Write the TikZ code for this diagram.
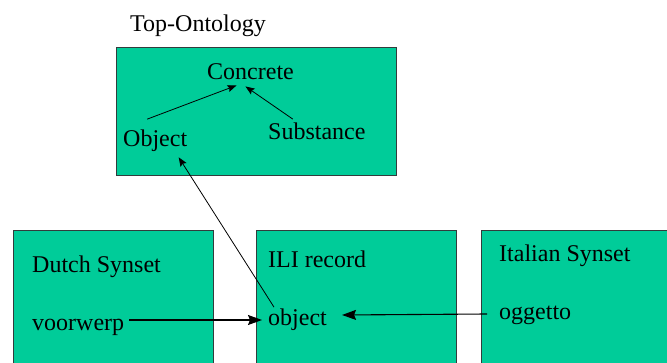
\documentclass[tikz,border=0pt]{standalone}
\usepackage{fontspec}
\setmainfont{Liberation Serif}
\usetikzlibrary{arrows.meta,calc}
\definecolor{boxfill}{RGB}{0,204,153}
\definecolor{boxline}{RGB}{50,60,60}
\begin{document}
\begin{tikzpicture}[x=1pt,y=-1pt,
  panel/.style={draw=boxline,fill=boxfill,line width=0.9pt},
  lbl/.style={anchor=base west,inner sep=0pt,font=\fontsize{24}{28}\selectfont},
  thinarrow/.style={line width=0.8pt,-{Stealth[length=9,width=7,inset=1.5]}},
  thickarrow/.style={line width=1.1pt,-{Stealth[length=14,width=10,inset=2]}}]
\useasboundingbox (0,0) rectangle (667,363);
\clip (0,0) rectangle (667,363);
% panels
\node[panel,minimum width=280,minimum height=128,anchor=north west,inner sep=0pt] (top) at (116,47) {};
\node[panel,minimum width=200,minimum height=150,anchor=north west,inner sep=0pt] (dutch) at (12.5,230) {};
\node[panel,minimum width=200,minimum height=150,anchor=north west,inner sep=0pt] (ili) at (256,230) {};
\node[panel,minimum width=200,minimum height=150,anchor=north west,inner sep=0pt] (ital) at (481,230) {};
% texts
\node[lbl] (title) at (130,32) {Top-Ontology};
\node[lbl] (concrete) at (207,80) {Concrete};
\node[lbl] (objectT) at (123,147) {Object};
\node[lbl] (substance) at (268,140) {Substance};
\node[lbl] (dutchT) at (32,273) {Dutch Synset};
\node[lbl] (voorwerp) at (32,331) {voorwerp};
\node[lbl] (iliT) at (268,268) {ILI record};
\node[lbl] (objectI) at (268,326) {object};
\node[lbl] (italT) at (499,262) {Italian Synset};
\node[lbl] (oggetto) at (499,320) {oggetto};
% connectors
\draw[thinarrow] ($(objectT.north)+(-8,-11)$) -- ($(concrete.south)+(-14,5)$);
\draw[thinarrow] ($(substance.north)+(-24,-4)$) -- ($(concrete.south)+(-5,6)$);
\draw[thinarrow] ($(objectI.north west)+(6,-2)$) -- ($(objectT.south)+(23.5,5)$);
\draw[thickarrow] ($(voorwerp.base east)+(5,-11)$) -- ($(objectI.base west)+(-6,-6)$);
\draw[thickarrow] ($(oggetto.base west)+(-12,-6)$) -- ($(objectI.base east)+(15,-11)$);
\end{tikzpicture}
\end{document}
